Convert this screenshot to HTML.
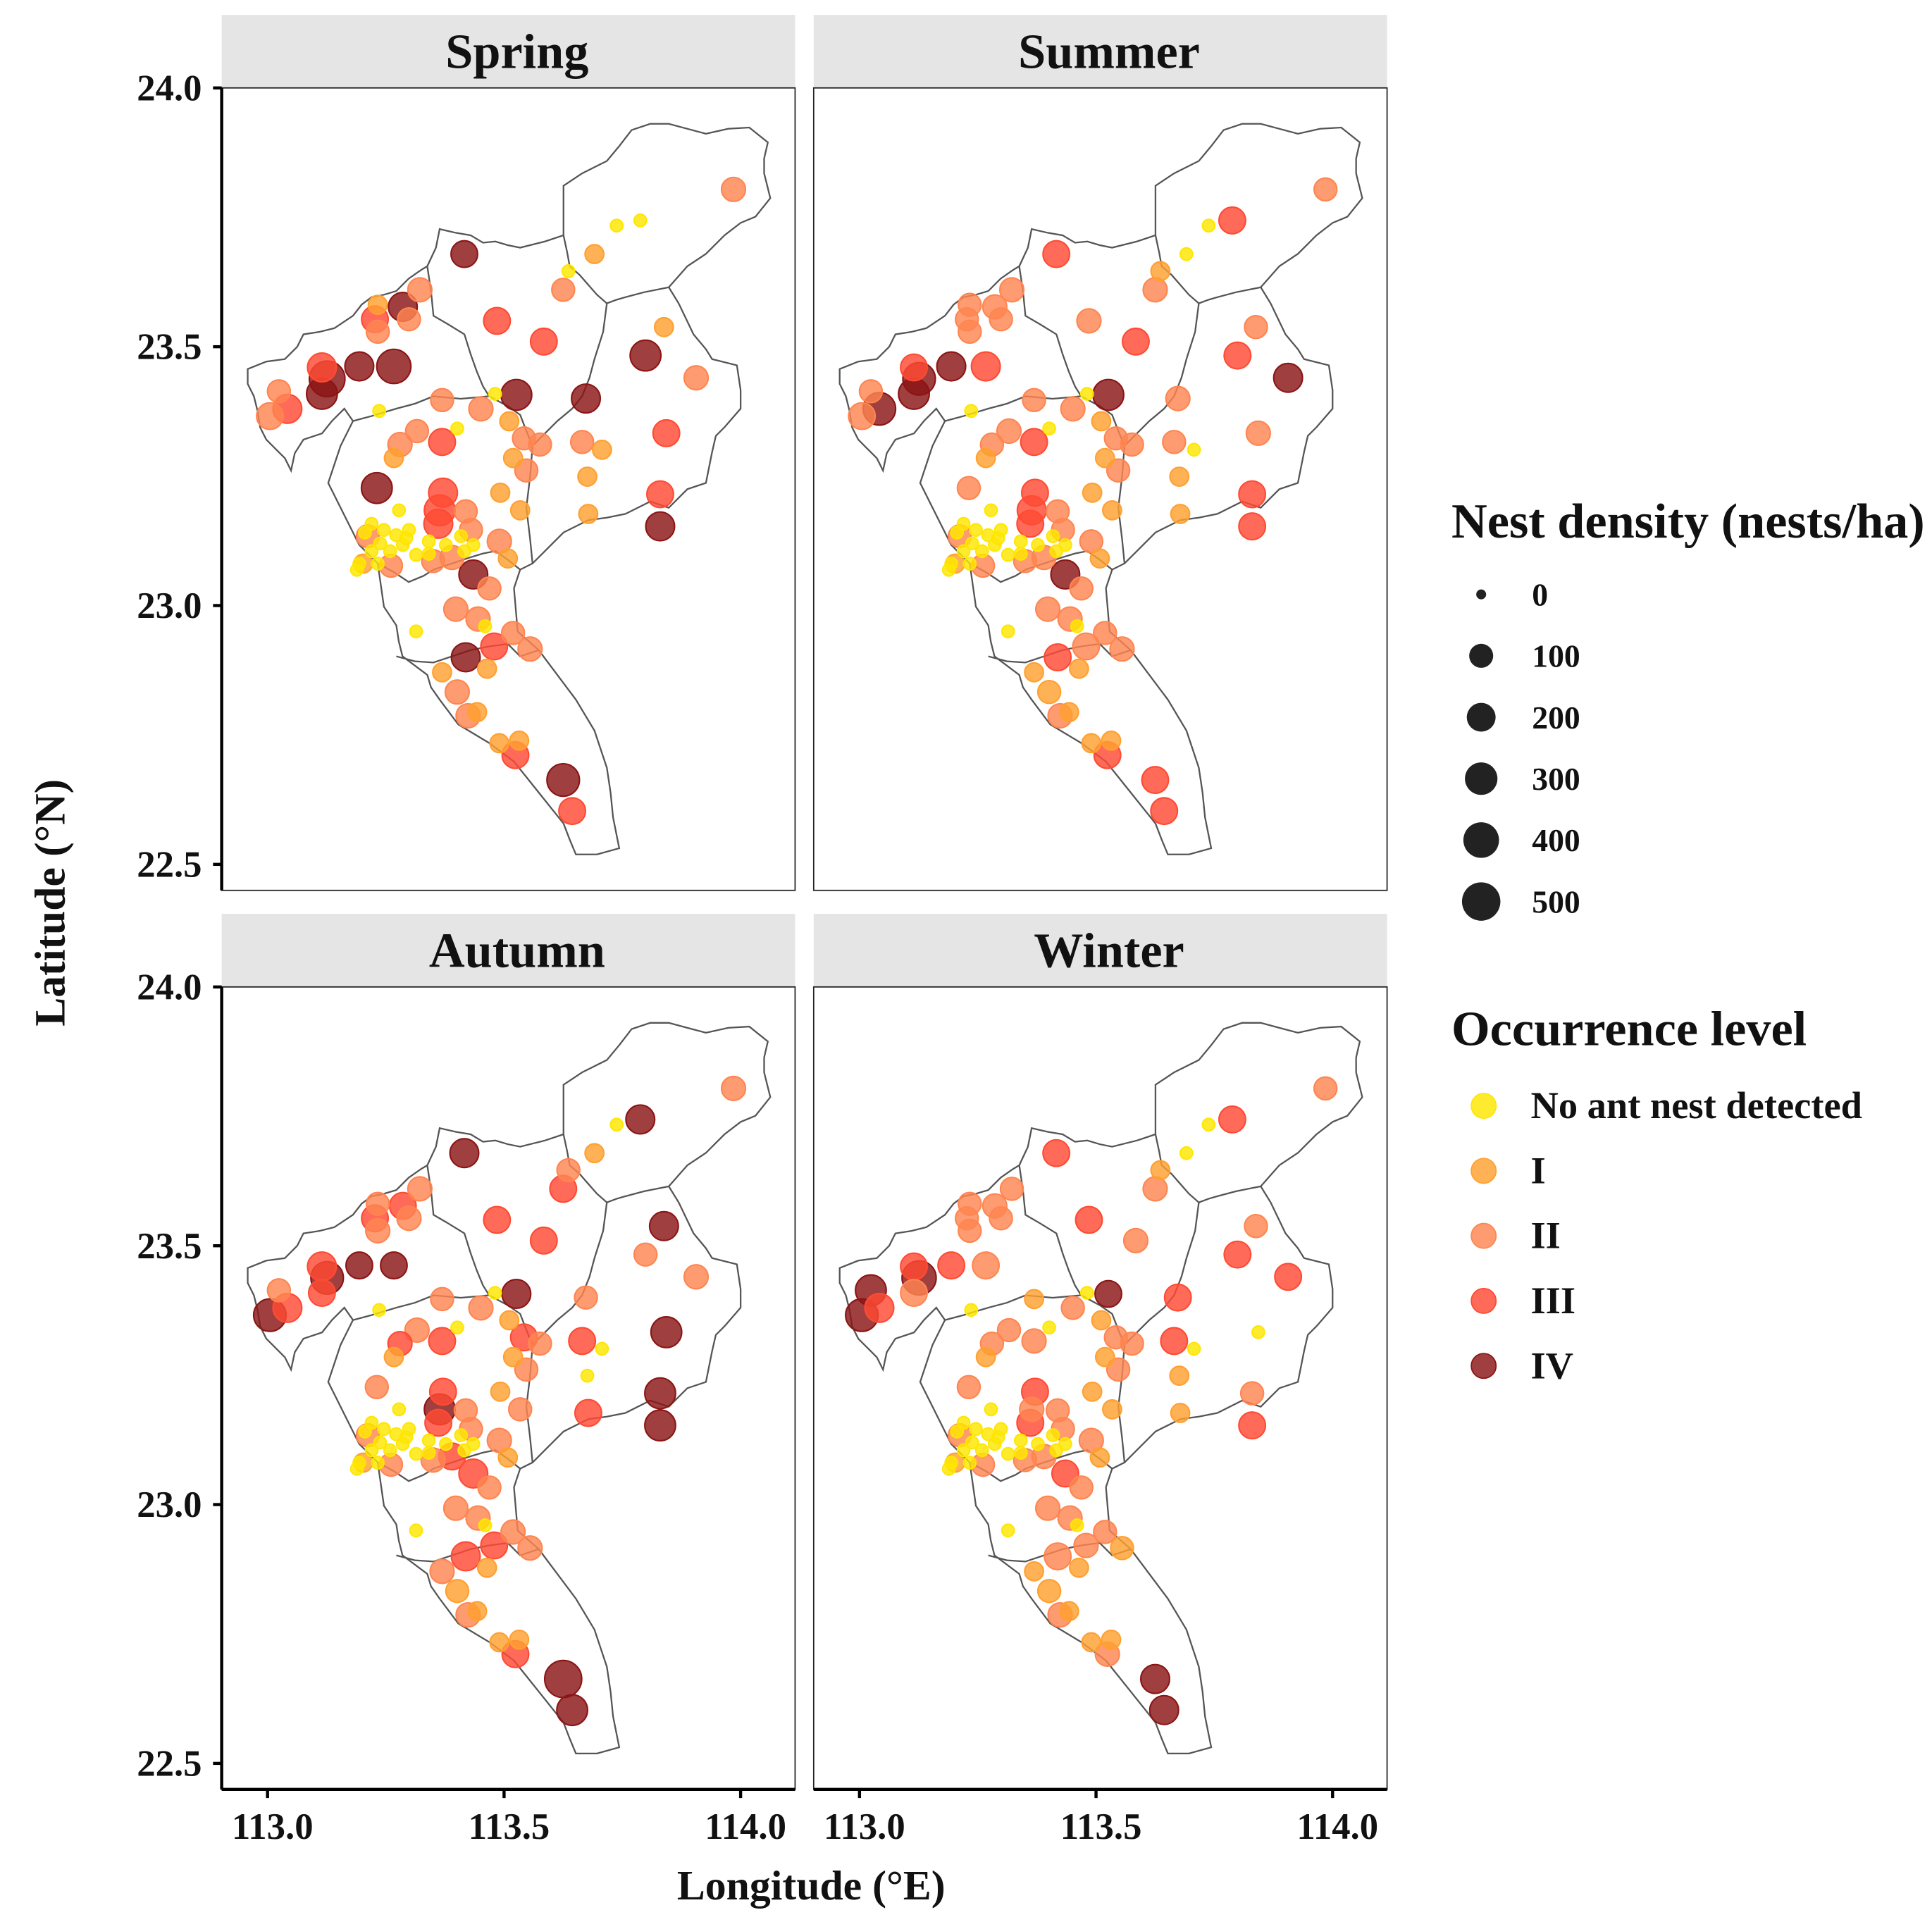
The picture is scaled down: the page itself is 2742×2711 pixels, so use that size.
<!DOCTYPE html>
<html><head><meta charset="utf-8"><style>
html,body{margin:0;padding:0;background:#fff}
svg{display:block}
text{font-family:"Liberation Serif",serif;font-weight:bold;fill:#111}
</style></head><body>
<svg id="chart" xmlns="http://www.w3.org/2000/svg" width="2742" height="2711" viewBox="0 0 1560 1542.4">
<rect width="1560" height="1542.4" fill="#fff"/>
<g id="panels"></g>
<g id="legend"></g>
<text x="655" y="1534" font-size="34" text-anchor="middle">Longitude (°E)</text>
<text x="52" y="729" font-size="35" text-anchor="middle" transform="rotate(-90 52 729)">Latitude (°N)</text>
</svg>
<script>
// site coordinates (same sites every season)
const lon=[113.985,113.738,113.788,113.416,113.636,113.691,113.625,113.322,113.286,113.233,113.227,113.299,113.485,113.584,113.838,113.799,113.906,113.233,113.194,113.267,113.115,113.126,113.115,113.024,113.042,113.005,113.236,113.526,113.673,113.451,113.369,113.481,113.511,113.316,113.280,113.369,113.401,113.542,113.576,113.665,113.707,113.843,113.519,113.547,113.267,113.231,113.676,113.371,113.492,113.830,113.830,113.678,113.534,113.364,113.419,113.278,113.361,113.430,113.490,113.508,113.220,113.212,113.261,113.202,113.350,113.390,113.435,113.469,113.398,113.445,113.314,113.419,113.479,113.519,113.555,113.369,113.464,113.401,113.443,113.424,113.490,113.532,113.524,113.625,113.644,113.460,
113.206,113.246,113.272,113.286,113.299,113.259,113.220,113.194,113.233,113.189,113.341,113.341,113.314,113.409,113.416,113.377,113.435,113.238,113.293];
const lat=[23.804,23.734,23.744,23.679,23.646,23.679,23.61,23.61,23.577,23.581,23.553,23.553,23.55,23.51,23.538,23.483,23.44,23.529,23.462,23.462,23.46,23.438,23.409,23.414,23.38,23.366,23.376,23.407,23.4,23.38,23.397,23.409,23.356,23.337,23.311,23.316,23.342,23.323,23.311,23.316,23.301,23.333,23.285,23.261,23.285,23.227,23.249,23.218,23.218,23.215,23.153,23.177,23.184,23.184,23.182,23.184,23.158,23.146,23.124,23.091,23.158,23.134,23.077,23.081,23.086,23.093,23.06,23.033,22.993,22.974,22.95,22.9,22.921,22.947,22.916,22.871,22.878,22.833,22.794,22.787,22.734,22.739,22.711,22.663,22.603,22.96,
23.141,23.146,23.136,23.117,23.146,23.105,23.105,23.081,23.081,23.069,23.124,23.1,23.098,23.134,23.105,23.117,23.117,23.12,23.13];
// levels: 0=none,1=I,2=II,3=III,4=IV
const lvSpring=[2,0,0,4,0,1,2,2,4,1,3,2,3,3,1,4,2,2,4,4,3,4,4,2,3,2,0,4,4,2,2,0,1,2,2,3,0,2,2,2,1,3,1,2,1,4,1,3,1,3,4,1,1,3,2,0,3,2,2,1,0,2,2,1,2,2,4,2,2,2,0,4,3,2,2,1,1,2,1,2,1,1,3,4,3,0, 0,0,0,0,0,0,0,0,0,0,0,0,0,0,0,0,0,0,0];
const dsSpring=[100,0,0,150,0,30,80,100,200,30,150,80,150,150,30,250,100,80,200,350,200,400,250,80,200,150,0,250,200,100,80,0,30,80,100,150,0,80,80,80,30,150,30,80,30,250,30,200,30,150,200,30,30,250,80,0,200,80,100,30,0,80,80,30,80,100,200,80,100,100,0,200,150,80,100,30,30,100,30,100,30,30,150,300,150,0, 0,0,0,0,0,0,0,0,0,0,0,0,0,0,0,0,0,0,0];
const lvSummer=[2,0,3,3,1,0,2,2,2,2,2,2,2,3,2,3,4,2,4,3,3,4,4,2,4,2,0,4,2,2,2,0,1,2,2,3,0,2,2,2,0,2,1,2,1,2,1,3,1,3,3,1,1,3,2,0,3,2,2,1,0,2,2,1,2,2,4,2,2,2,0,3,2,2,2,1,1,1,1,2,1,1,3,3,3,0, 0,0,0,0,0,0,0,0,0,0,0,0,0,0,0,0,0,0,0];
const dsSummer=[80,0,150,150,30,0,100,100,100,80,80,80,100,150,80,150,200,80,200,200,150,300,250,80,300,150,0,250,100,100,80,0,30,100,80,150,0,80,80,80,0,100,30,80,30,80,30,150,30,150,150,30,30,200,80,0,150,80,80,30,0,80,80,30,80,100,200,80,100,100,0,150,150,80,100,30,30,80,30,100,30,30,150,150,150,0, 0,0,0,0,0,0,0,0,0,0,0,0,0,0,0,0,0,0,0];
const lvAutumn=[2,0,4,4,2,1,3,2,3,2,3,2,3,3,4,2,2,2,4,4,3,4,3,2,3,4,0,4,2,2,2,0,1,2,3,3,0,3,2,3,0,4,1,2,1,2,0,3,1,4,4,3,2,4,2,0,3,2,2,1,0,2,2,1,2,3,3,2,2,2,0,3,3,2,2,2,1,1,1,2,1,1,3,4,4,0, 0,0,0,0,0,0,0,0,0,0,0,0,0,0,0,0,0,0,0];
const dsAutumn=[100,0,200,200,80,30,150,100,150,80,150,100,150,150,200,80,100,100,150,150,200,300,150,80,200,300,0,200,80,100,80,0,30,100,100,150,0,150,80,150,0,250,30,80,30,80,0,150,30,250,250,150,80,250,80,0,150,80,100,30,0,80,80,30,100,150,200,80,100,100,0,200,150,100,100,100,30,80,30,100,30,30,150,450,250,0, 0,0,0,0,0,0,0,0,0,0,0,0,0,0,0,0,0,0,0];
const lvWinter=[2,0,3,3,1,0,2,2,2,2,2,2,3,2,2,3,3,2,3,2,3,4,2,4,3,4,0,4,3,2,1,0,1,2,2,2,0,2,2,3,0,0,1,2,1,2,1,3,1,2,3,1,1,2,2,0,3,2,2,1,0,2,2,1,2,2,3,2,2,2,0,2,2,2,1,1,1,1,1,2,1,1,2,4,4,0, 0,0,0,0,0,0,0,0,0,0,0,0,0,0,0,0,0,0,0];
const dsWinter=[80,0,150,150,30,0,100,80,100,80,80,80,150,100,80,150,150,80,150,150,150,350,150,250,200,300,0,150,150,80,30,0,30,80,80,100,0,80,80,150,0,0,30,80,30,80,30,150,30,80,150,30,30,100,80,0,150,80,100,30,0,80,80,30,80,100,150,80,100,100,0,150,100,80,80,30,30,80,30,100,30,30,100,200,200,0, 0,0,0,0,0,0,0,0,0,0,0,0,0,0,0,0,0,0,0];
const seasons=["Spring","Summer","Autumn","Winter"];
const xTicks=[113.0,113.5,114.0];
const yTicks=[22.5,23.0,23.5,24.0];
const legendDensity=[0,100,200,300,400,500];
const legendLevels=["No ant nest detected","I","II","III","IV"];

const NS="http://www.w3.org/2000/svg";
const colors=["#ffe600","#ffa030","#ff8550","#ff4a33","#8b1515"];
const panelOrigins=[[179,71],[657,71],[179,797],[657,797]];
const PW=463,PH=648;
function xs(lo,px){return px+37+(lo-113)*382;}
function ys(la,py){return py+(24-la)*418;}
function rs(d){return 5+Math.sqrt(d/500)*10.5;}
function mk(tag,attrs,parent){const e=document.createElementNS(NS,tag);for(const k in attrs)e.setAttribute(k,attrs[k]);parent.appendChild(e);return e;}

const mapOuter="M455,150 L470,140 490,130 500,118 510,105 525,100 540,100 555,104 570,108 588,104 605,103 620,115 617,128 617,140 622,160 610,175 598,180 585,190 570,205 555,215 540,232 548,245 560,270 570,282 575,290 595,295 598,315 598,330 585,345 578,352 575,365 570,390 555,395 540,410 525,405 505,415 490,418 475,420 455,430 440,445 430,455 420,460 415,475 418,510 435,525 450,545 465,565 480,590 490,620 493,640 495,660 500,685 482,690 465,690 460,678 455,665 435,640 415,615 395,600 370,585 355,565 348,555 345,545 325,530 322,518 320,505 310,490 305,455 298,448 290,440 285,430 280,420 265,390 270,375 275,360 285,340 278,330 268,340 260,350 245,355 238,366 235,380 230,370 222,362 215,355 210,345 208,332 205,320 200,310 200,298 215,292 230,290 240,280 245,270 258,268 270,265 285,255 292,246 300,240 310,238 320,235 330,225 340,218 345,215 352,200 355,185 368,188 380,190 390,196 400,195 410,198 420,200 432,197 440,195 455,190 Z";
const mapInner=["M345,215 L348,235 350,255 362,262 375,270 380,286 385,300 390,312 395,320","M395,320 L410,328 420,335 425,348 430,360 428,385 425,410 428,435 430,455","M285,340 L300,336 320,330 335,326 350,320 372,322 395,320","M305,455 L318,462 330,470 342,465 350,460 365,455 380,450 390,447 400,445 410,452 420,460","M455,190 L458,204 460,215 468,222 475,230 482,238 490,245 498,242 505,240 520,236 540,232","M490,245 L487,268 480,290 476,305 470,320 462,330 450,340 440,350 430,360","M320,530 L335,534 350,535 365,530 380,525 395,522 410,520 420,530 435,525"];
const lvArr=[lvSpring,lvSummer,lvAutumn,lvWinter];
const dsArr=[dsSpring,dsSummer,dsAutumn,dsWinter];
const panels=document.getElementById('panels');
seasons.forEach((s,i)=>{
  const [px,py]=panelOrigins[i];
  const g=mk('g',{},panels);
  
  
  const strip=mk('rect',{x:px,y:py-59,width:PW,height:59,fill:'#e5e5e5'},g);
  
  
  const st=mk('text',{x:px+PW/2+7,y:py-16,'font-size':40,'text-anchor':'middle'},g);
  st.textContent=s;
  
  
  const mg=mk('g',{transform:`translate(${px-179},${py-71})`,fill:'none',stroke:'#555','stroke-width':1.3},g);
  
  
  mk('path',{d:mapOuter},mg);
  mapInner.forEach(d=>mk('path',{d:d},mg));
  const lv=lvArr[i],ds=dsArr[i];
  const idx=lon.map((_,k)=>k).sort((a,b)=>ds[b]-ds[a]);
  idx.forEach(k=>{
    const c=mk('circle',{cx:xs(lon[k],px),cy:ys(lat[k],py),r:rs(ds[k]),fill:colors[lv[k]],'fill-opacity':0.82,stroke:colors[lv[k]],'stroke-width':1.2},g);
    
    
  });
  const b=mk('rect',{x:px,y:py,width:PW,height:PH,fill:'none',stroke:'#222','stroke-width':1},g);
  
  
  if(i%2===0){
    mk('line',{x1:px,y1:py,x2:px,y2:py+PH,stroke:'#000','stroke-width':2.5},g);
    yTicks.forEach(t=>{
      const y=ys(t,py);
      mk('line',{x1:px-7,y1:y,x2:px,y2:y,stroke:'#000','stroke-width':2.5},g);
      const tl=mk('text',{x:px-16,y:y+10,'font-size':30,'text-anchor':'end'},g);
      tl.textContent=t.toFixed(1);
      
      
    });
  }
  if(i>=2){
    mk('line',{x1:px,y1:py+PH,x2:px+PW,y2:py+PH,stroke:'#000','stroke-width':2.5},g);
    xTicks.forEach(t=>{
      const x=xs(t,px);
      mk('line',{x1:x,y1:py+PH,x2:x,y2:py+PH+7,stroke:'#000','stroke-width':2.5},g);
      const tl=mk('text',{x:x+4,y:py+PH+40,'font-size':30,'text-anchor':'middle'},g);
      tl.textContent=t.toFixed(1);
      
      
    });
  }
});
const leg=document.getElementById('legend');
const t1=mk('text',{x:1172,y:434,'font-size':40},leg);
t1.textContent="Nest density (nests/ha)";


legendDensity.forEach((d,j)=>{
  const y=480+j*49.6;
  const c=mk('circle',{cx:1196,cy:y,r:d===0?4:rs(d),fill:'#222'},leg);
  
  
  const t=mk('text',{x:1237,y:y+9,'font-size':26},leg);
  t.textContent=d;
  
  
});
const t2=mk('text',{x:1172,y:844,'font-size':40},leg);
t2.textContent="Occurrence level";


legendLevels.forEach((l,j)=>{
  const y=893+j*52.5;
  const c=mk('circle',{cx:1198,cy:y,r:10,fill:colors[j],'fill-opacity':0.82,stroke:colors[j]},leg);
  
  
  const t=mk('text',{x:1236,y:y+10,'font-size':31},leg);
  t.textContent=l;
  
  
});
</script>
</body></html>
